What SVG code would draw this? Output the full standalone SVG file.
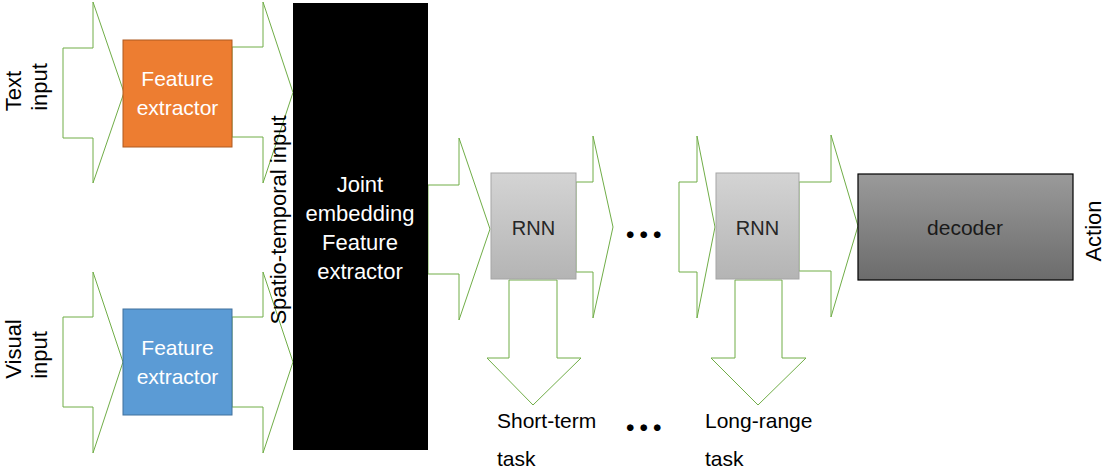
<svg xmlns="http://www.w3.org/2000/svg" width="1106" height="470" viewBox="0 0 1106 470">
<defs>
<linearGradient id="gRnn" x1="0" y1="0" x2="0" y2="1"><stop offset="0" stop-color="#d4d4d4"/><stop offset="1" stop-color="#b4b4b4"/></linearGradient>
<linearGradient id="gDec" x1="0" y1="0" x2="0" y2="1"><stop offset="0" stop-color="#9a9a9a"/><stop offset="1" stop-color="#6c6c6c"/></linearGradient>
</defs>
<style>
.arr{fill:#ffffff;stroke:#70ad47;stroke-width:1}
.t{font-family:"Liberation Sans",Arial,sans-serif;font-size:21px;fill:#000}
.w{font-family:"Liberation Sans",Arial,sans-serif;font-size:21px;fill:#ffffff;text-anchor:middle}
.dots{font-family:Lato,"Liberation Sans",sans-serif;font-size:44px;font-weight:bold;letter-spacing:3px;fill:#000}
</style>
<rect width="1106" height="470" fill="#ffffff"/>
<g id="connectors">
<polygon class="arr" points="63,48 93,48 93,2 124,92.5 93,183 93,138 63,138"/>
<polygon class="arr" points="232,47 263,47 263,2 293,92.5 263,183 263,137 232,137"/>
<polygon class="arr" points="63,317 93,317 93,272 123,362 93,453 93,407 63,407"/>
<polygon class="arr" points="232,317 263,317 263,272 293,362 263,453 263,407 232,407"/>
<polygon class="arr" points="428,185 459,185 459,138 490,229 459,320 459,274 428,274"/>
<polygon class="arr" points="576,182 593,182 593,136 613,227 593,318 593,272 576,272"/>
<polygon class="arr" points="679,182 697,182 697,136 715,227 697,318 697,272 679,272"/>
<polygon class="arr" points="799,182 831,182 831,135 858,226 831,317 831,271 799,271"/>
<polygon class="arr" points="509,280 557,280 557,358 581,358 533,405 487,358 509,358"/>
<polygon class="arr" points="735,280 782,280 782,358 806,358 758,405 711,358 735,358"/>
</g>
<g id="text-input">
<text class="t" text-anchor="middle" style="font-size:22px" transform="translate(21,91) rotate(-90)">Text</text>
<text class="t" text-anchor="middle" style="font-size:22px" transform="translate(47,87) rotate(-90)">input</text>
</g>
<g id="visual-input">
<text class="t" text-anchor="middle" style="font-size:22px" transform="translate(21,349) rotate(-90)">Visual</text>
<text class="t" text-anchor="middle" style="font-size:22px" transform="translate(47,355) rotate(-90)">input</text>
</g>
<g id="fe-text">
<rect x="123" y="40" width="109" height="107" fill="#ed7d31" stroke="#ae5a21" stroke-width="1"/>
<text class="w" x="177.5" y="86">Feature</text>
<text class="w" x="177.5" y="115">extractor</text>
</g>
<g id="fe-visual">
<rect x="123" y="309" width="109" height="106" fill="#5b9bd5" stroke="#41719c" stroke-width="1"/>
<text class="w" x="177.5" y="355">Feature</text>
<text class="w" x="177.5" y="384">extractor</text>
</g>
<g id="joint">
<rect x="293" y="3" width="135" height="447" fill="#000000"/>
<text class="w" x="360" y="192" style="font-size:22px">Joint</text>
<text class="w" x="360" y="221" style="font-size:22px">embedding</text>
<text class="w" x="360" y="250" style="font-size:22px">Feature</text>
<text class="w" x="360" y="279" style="font-size:22px">extractor</text>
</g>
<g id="spatio-label">
<text class="t" text-anchor="middle" style="font-size:22px" transform="translate(286,220) rotate(-90)">Spatio-temporal input</text>
</g>
<g id="rnn1">
<rect x="491" y="173" width="85" height="106" fill="url(#gRnn)" stroke="#a5a5a5" stroke-width="1"/>
<text class="t" x="533.5" y="235" text-anchor="middle" style="font-size:20px;fill:#262626">RNN</text>
</g>
<g id="dots-mid">
<text class="dots" x="625" y="238">...</text>
</g>
<g id="rnn2">
<rect x="716" y="173" width="83" height="106" fill="url(#gRnn)" stroke="#a5a5a5" stroke-width="1"/>
<text class="t" x="757.5" y="235" text-anchor="middle" style="font-size:20px;fill:#262626">RNN</text>
</g>
<g id="decoder">
<rect x="858" y="174" width="215" height="106" fill="url(#gDec)" stroke="#000000" stroke-width="1.2"/>
<text class="t" x="965" y="235" text-anchor="middle" style="fill:#1a1a1a">decoder</text>
</g>
<g id="action">
<text class="t" text-anchor="middle" style="font-size:22px" transform="translate(1101,231) rotate(-90)">Action</text>
</g>
<g id="short-term">
<text class="t" x="497" y="428">Short-term</text>
<text class="t" x="497" y="466">task</text>
</g>
<g id="dots-bottom">
<text class="dots" x="625" y="431">...</text>
</g>
<g id="long-range">
<text class="t" x="705" y="428">Long-range</text>
<text class="t" x="705" y="466">task</text>
</g>
</svg>
